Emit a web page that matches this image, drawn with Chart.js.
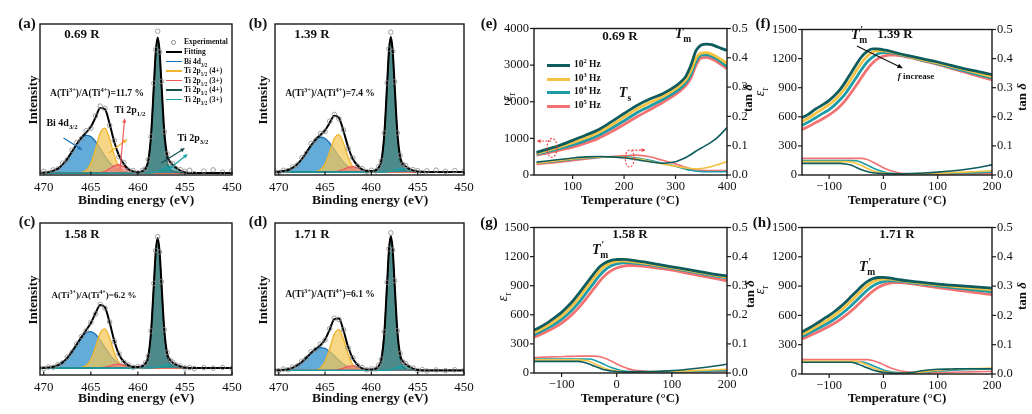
<!DOCTYPE html>
<html><head><meta charset="utf-8">
<script src="https://cdn.jsdelivr.net/npm/chart.js@4.4.1/dist/chart.umd.min.js"></script>
<style>
html,body{margin:0;padding:0;background:#fff;}
body{width:1032px;height:414px;position:relative;overflow:hidden;font-family:'Liberation Serif','Times New Roman',serif;color:#111;}
canvas{position:absolute;}
.t{position:absolute;white-space:nowrap;line-height:1;color:#111;}
.t sub,.t sup{font-size:68%;line-height:0;}
.lg{position:absolute;}
</style></head><body>
<script>
// ---------------- XPS data (binding energy grid, eV) ----------------
const xpsEnergy = [470.5,470,469.5,469,468.5,468,467.5,467,466.5,466,465.5,465,464.5,464,463.5,463,462.5,462,461.5,461,460.5,460,459.5,459.2,458.9,458.6,458.3,458.1,457.9,457.7,457.5,457.2,456.9,456.6,456.3,456.0,455.5,455,454.5,454,453,452,451,450];
const xpsTicks = [470,465,460,455,450];
// component heights above the background line
const xpsBaseA = 1.3;
const xpsBiA = [0.1,0.2,0.6,1.4,2.9, 5.6,9.4,14.2,19.1,23.1, 25.0,24.1,20.9,16.2,11.2, 7.0,3.9,1.9,0.9,0.3, 0.1,0,0,0,0, 0,0,0,0,0, 0,0,0,0,0, 0,0,0,0,0, 0,0,0,0];
const xpsY4A = [0,0,0,0,0, 0,0,0,0,0.3, 1.8,6.5,15.9,26.5,29.8, 22.6,11.7,4.1,1.0,0.1, 0,0,0,0,0, 0,0,0,0,0, 0,0,0,0,0, 0,0,0,0,0, 0,0,0,0];
const xpsR3A = [0,0,0,0,0, 0,0,0,0,0, 0,0,0,0.3,1.2, 2.9,4.8,5.5,4.2,2.1, 0.7,0.1,0,0,0, 0,0,0,0,0, 0,0,0,0,0, 0,0,0,0,0, 0,0,0,0];
const xpsP4A = [0,0,0,0,0, 0,0,0,0,0, 0,0,0,0,0, 0,0,0,0,0, 0.2,0.5,1.3,3,8, 25,57.8,79.9,89,79.9, 57.8,25,8,3,1.3, 0.7,0.3,0.1,0,0, 0,0,0,0];
const xpsP3A = [0,0,0,0,0, 0,0,0,0,0, 0,0,0,0,0, 0,0,0,0,0, 0,0,0,0,0, 0,0.25,0.5,0.8,1.3, 2.0,3.1,4.1,4.5,4.1, 3.1,1.3,0.35,0.05,0, 0,0,0,0];
const xpsFitA = [1.4,1.5,1.9,2.7,4.2, 6.9,10.7,15.5,20.4,24.7, 28.1,31.9,38.1,44.3,43.5, 33.8,21.7,12.8,7.4,3.8, 2.3,1.9,2.6,4.3,9.3, 26.3,59.4,81.7,91.1,82.5, 61.1,29.4,13.4,8.8,6.7, 5.1,2.9,1.75,1.35,1.3, 1.3,1.3,1.3,1.3];
const xpsExpA = [1.9,2.4,1.2,3.3,4.0, 7.8,10.1,16.4,21.5,24.0, 29.3,31.0,39.2,45.6,44.1, 32.9,22.8,12.1,8.3,3.1, 2.9,1.4,3.0,4.0,10.2, 25.5,60.8,83.0,95.2,81.4, 62.0,28.6,14.1,8.1,7.3, 4.4,3.6,2.4,3.1,0.9, 2.6,3.4,1.8,2.7];

const xpsBaseB = 2.0;
const xpsBiB = [0.1,0.2,0.6,1.3,2.7, 5.2,8.6,13.1,17.6,21.3, 23.0,22.2,19.2,14.9,10.3, 6.4,3.6,1.7,0.8,0.3, 0.1,0,0,0,0, 0,0,0,0,0, 0,0,0,0,0, 0,0,0,0,0, 0,0,0,0];
const xpsY4B = [0,0,0,0,0, 0,0,0,0,0.3, 1.5,5.4,13.3,22.1,24.8, 18.8,9.7,3.4,0.8,0.1, 0,0,0,0,0, 0,0,0,0,0, 0,0,0,0,0, 0,0,0,0,0, 0,0,0,0];
const xpsR3B = [0,0,0,0,0, 0,0,0,0,0, 0,0,0,0.2,0.8, 1.8,3.1,3.5,2.7,1.3, 0.4,0.1,0,0,0, 0,0,0,0,0, 0,0,0,0,0, 0,0,0,0,0, 0,0,0,0];
const xpsP4B = [0,0,0,0,0, 0,0,0,0,0, 0,0,0,0,0, 0,0,0,0,0, 0.2,0.5,1.3,3,8, 25,57.8,79.9,89,79.9, 57.8,25,8,3,1.3, 0.7,0.3,0.1,0,0, 0,0,0,0];
const xpsP3B = [0,0,0,0,0, 0,0,0,0,0, 0,0,0,0,0, 0,0,0,0,0, 0,0,0,0,0, 0,0.1,0.3,0.5,0.7, 1.1,1.7,2.3,2.5,2.3, 1.7,0.7,0.2,0,0, 0,0,0,0];
const xpsFitB = [2.1,2.2,2.6,3.3,4.7, 7.2,10.6,15.1,19.6,23.6, 26.5,29.6,34.5,39.2,37.9, 29.0,18.4,10.6,6.3,3.7, 2.7,2.6,3.3,5.0,10.0, 27.0,59.9,82.2,91.5,82.6, 60.9,28.7,12.3,7.5,5.6, 4.4,3.0,2.3,2.0,2.0, 2.0,2.0,2.0,2.0];
const xpsExpB = [2.6,1.7,3.1,2.9,5.3, 6.6,11.4,14.5,20.8,23.0, 27.4,28.9,35.6,40.1,37.2, 29.8,17.6,11.3,5.8,4.2, 2.3,3.1,2.8,5.6,9.4, 27.8,61.0,83.5,94.6,81.9, 61.8,27.9,13.0,7.0,6.2, 3.8,3.5,2.9,1.6,2.7, 3.2,2.4,2.9,2.5];

const xpsBaseC = 4.6;
const xpsBiC = [0,0.1,0.3,0.8,1.8, 3.7,6.7,10.8,15.5,20.0, 23.2,24.0,22.2,18.3,13.6, 9.0,5.4,2.8,1.3,0.6, 0.2,0.1,0,0,0, 0,0,0,0,0, 0,0,0,0,0, 0,0,0,0,0, 0,0,0,0];
const xpsY4C = [0,0,0,0,0, 0,0,0,0,0.3, 1.6,5.6,13.8,23.0,25.8, 19.6,10.1,3.6,0.9,0.1, 0,0,0,0,0, 0,0,0,0,0, 0,0,0,0,0, 0,0,0,0,0, 0,0,0,0];
const xpsR3C = [0,0,0,0,0, 0,0,0,0,0, 0,0,0,0.1,0.5, 1.3,2.2,2.5,1.9,1.0, 0.3,0.1,0,0,0, 0,0,0,0,0, 0,0,0,0,0, 0,0,0,0,0, 0,0,0,0];
const xpsP4C = [0,0,0,0,0, 0,0,0,0,0, 0,0,0,0,0, 0,0,0,0,0, 0.2,0.5,1.2,2.9,7.6, 23.9,55.2,76.3,85,76.3, 55.2,23.9,7.6,2.9,1.2, 0.7,0.3,0.1,0,0, 0,0,0,0];
const xpsP3C = [0,0,0,0,0, 0,0,0,0,0, 0,0,0,0,0, 0,0,0,0,0, 0,0,0,0,0, 0,0.1,0.3,0.5,0.7, 1.1,1.7,2.3,2.5,2.3, 1.7,0.7,0.2,0,0, 0,0,0,0];
const xpsFitC = [4.6,4.7,4.9,5.4,6.4, 8.3,11.3,15.4,20.1,24.9, 29.4,34.2,40.6,46.0,44.5, 34.5,22.3,13.5,8.7,6.3, 5.3,5.3,5.8,7.5,12.2, 28.5,59.9,81.2,90.1,81.6, 60.9,30.2,14.5,10.0,8.1, 7.0,5.6,4.9,4.6,4.6, 4.6,4.6,4.6,4.6];
const xpsExpC = [5.0,4.2,5.3,5.1,6.8, 8.0,11.8,15.0,20.5,25.3, 29.0,34.6,40.2,46.5,44.0, 34.9,22.0,13.9,8.4,6.6, 5.0,5.6,5.5,7.9,12.5, 28.9,60.3,81.9,91.0,81.0, 61.4,29.8,14.9,9.7,8.4, 6.7,5.9,4.6,4.9,4.3, 4.8,4.5,4.9,4.4];

const xpsBaseD = 3.0;
const xpsBiD = [0.1,0.1,0.4,0.8,1.7, 3.4,5.6,8.5,11.5,13.9, 15.0,14.5,12.5,9.7,6.7, 4.2,2.3,1.1,0.5,0.2, 0.1,0,0,0,0, 0,0,0,0,0, 0,0,0,0,0, 0,0,0,0,0, 0,0,0,0];
const xpsY4D = [0,0,0,0,0, 0,0,0,0,0.3, 1.6,5.9,14.3,23.9,26.8, 20.3,10.5,3.7,0.9,0.1, 0,0,0,0,0, 0,0,0,0,0, 0,0,0,0,0, 0,0,0,0,0, 0,0,0,0];
const xpsR3D = [0,0,0,0,0, 0,0,0,0,0, 0,0,0,0.2,0.7, 1.6,2.6,3.0,2.3,1.1, 0.4,0.1,0,0,0, 0,0,0,0,0, 0,0,0,0,0, 0,0,0,0,0, 0,0,0,0];
const xpsP4D = [0,0,0,0,0, 0,0,0,0,0, 0,0,0,0,0, 0,0,0,0,0, 0.2,0.5,1.3,3,7.9, 24.7,57.1,79,88,79, 57.1,24.7,7.9,3,1.3, 0.7,0.3,0.1,0,0, 0,0,0,0];
const xpsP3D = [0,0,0,0,0, 0,0,0,0,0, 0,0,0,0,0, 0,0,0,0,0, 0,0,0,0,0, 0,0.2,0.3,0.5,0.9, 1.3,2.1,2.7,3.0,2.7, 2.1,0.9,0.2,0,0, 0,0,0,0];
const xpsFitD = [3.1,3.1,3.4,3.8,4.7, 6.4,8.6,11.5,14.5,17.2, 19.6,23.4,29.8,36.8,37.2, 29.1,18.4,10.8,6.7,4.4, 3.7,3.6,4.3,6.0,10.9, 27.7,60.3,82.3,91.5,82.9, 61.4,29.8,13.6,9.0,7.0, 5.8,4.2,3.3,3.0,3.0, 3.0,3.0,3.0,3.0];
const xpsExpD = [3.6,2.8,3.9,3.5,5.2, 6.0,9.1,11.0,15.2,16.8, 20.3,23.0,30.5,37.4,36.6, 29.7,17.9,11.4,6.3,4.9, 3.4,4.0,4.0,6.5,10.4, 28.4,60.9,83.0,93.5,82.2, 62.1,29.2,14.2,8.6,7.5, 5.3,4.6,3.0,3.5,2.7, 3.3,2.9,3.4,3.1];

// ---------------- Dielectric data ----------------
const freqLabels = ['10<sup>2</sup> Hz','10<sup>3</sup> Hz','10<sup>4</sup> Hz','10<sup>5</sup> Hz'];
const tempE = [30,50,75,100,125,150,175,200,225,250,275,300,310,320,330,340,350,360,370,380,390,400];
const epsE2 = [618,700,810,945,1085,1236,1450,1678,1900,2075,2220,2428,2540,2693,3002,3400,3550,3576,3560,3505,3450,3400];
const epsE3 = [590,665,765,880,1010,1160,1360,1580,1800,1980,2140,2350,2460,2600,2850,3200,3330,3340,3300,3230,3140,3050];
const epsE4 = [570,635,725,820,940,1080,1270,1480,1700,1880,2060,2270,2380,2520,2750,3100,3270,3280,3240,3170,3070,2960];
const epsE5 = [540,600,680,760,870,1000,1180,1380,1590,1780,1980,2200,2310,2440,2650,3000,3200,3210,3170,3100,3000,2900];
const tanE2 = [0.044,0.048,0.053,0.058,0.062,0.063,0.062,0.059,0.052,0.045,0.040,0.045,0.052,0.060,0.070,0.082,0.092,0.102,0.113,0.126,0.143,0.162];
const tanE3 = [0.040,0.044,0.050,0.055,0.059,0.062,0.062,0.060,0.055,0.047,0.038,0.030,0.027,0.024,0.022,0.021,0.022,0.025,0.029,0.034,0.040,0.046];
const tanE4 = [0.040,0.043,0.048,0.053,0.057,0.060,0.062,0.062,0.058,0.050,0.040,0.030,0.025,0.020,0.016,0.013,0.012,0.011,0.011,0.011,0.011,0.012];
const tanE5 = [0.036,0.039,0.044,0.049,0.054,0.059,0.063,0.066,0.068,0.062,0.050,0.038,0.032,0.026,0.021,0.018,0.016,0.015,0.015,0.015,0.015,0.015];
const ticksE = [100,200,300,400];
const epsTicksE = [0,1000,2000,3000,4000];

const tempL = [-150,-140,-125,-110,-100,-90,-80,-70,-60,-50,-40,-30,-20,-10,0,10,20,30,50,75,100,125,150,175,200];
const ticksL = [-100,0,100,200];
const epsTicksL = [0,300,600,900,1200,1500];
const tanTicks = [0,0.1,0.2,0.3,0.4,0.5];

const epsF2 = [590,620,680,730,770,820,880,960,1050,1140,1220,1275,1300,1300,1290,1280,1265,1250,1225,1195,1165,1130,1095,1065,1035];
const epsF3 = [550,580,635,690,725,770,830,900,985,1075,1160,1225,1265,1280,1280,1272,1260,1245,1218,1185,1155,1120,1085,1050,1015];
const epsF4 = [510,540,590,640,675,720,775,840,920,1005,1090,1165,1215,1250,1262,1262,1255,1242,1215,1180,1148,1110,1072,1035,1000];
const epsF5 = [470,495,540,585,620,660,710,770,845,925,1010,1090,1155,1200,1225,1235,1237,1232,1210,1175,1140,1100,1060,1020,980];
const tanF2 = [0.040,0.040,0.040,0.040,0.040,0.040,0.040,0.038,0.034,0.026,0.018,0.012,0.008,0.006,0.005,0.004,0.004,0.004,0.005,0.007,0.010,0.014,0.019,0.026,0.035];
const tanF3 = [0.046,0.046,0.046,0.046,0.046,0.046,0.046,0.046,0.045,0.040,0.032,0.023,0.015,0.010,0.007,0.005,0.004,0.004,0.004,0.005,0.006,0.008,0.010,0.012,0.015];
const tanF4 = [0.050,0.050,0.050,0.050,0.050,0.050,0.050,0.050,0.050,0.049,0.043,0.034,0.025,0.017,0.011,0.007,0.005,0.004,0.004,0.004,0.005,0.006,0.007,0.008,0.010];
const tanF5 = [0.057,0.057,0.057,0.057,0.057,0.057,0.057,0.057,0.057,0.057,0.057,0.053,0.045,0.035,0.025,0.017,0.011,0.007,0.004,0.003,0.003,0.003,0.004,0.004,0.005];

const epsG2 = [440,470,520,580,625,680,740,810,885,960,1035,1100,1140,1162,1170,1172,1168,1160,1145,1120,1095,1070,1045,1020,1000];
const epsG3 = [415,443,490,545,588,640,698,765,840,915,990,1060,1108,1138,1150,1155,1153,1147,1133,1110,1087,1062,1037,1012,990];
const epsG4 = [395,420,463,513,553,600,655,718,790,865,940,1012,1068,1105,1125,1135,1137,1133,1122,1102,1080,1055,1030,1003,980];
const epsG5 = [370,393,432,478,515,558,608,666,733,805,880,952,1012,1055,1083,1100,1108,1108,1100,1082,1060,1033,1005,977,950];
const tanG2 = [0.040,0.040,0.040,0.040,0.040,0.040,0.040,0.040,0.037,0.031,0.023,0.016,0.010,0.007,0.005,0.004,0.004,0.004,0.005,0.006,0.008,0.012,0.017,0.023,0.030];
const tanG3 = [0.045,0.045,0.045,0.045,0.045,0.045,0.045,0.045,0.044,0.040,0.032,0.023,0.015,0.010,0.007,0.005,0.004,0.004,0.004,0.005,0.006,0.007,0.009,0.011,0.013];
const tanG4 = [0.048,0.048,0.048,0.048,0.048,0.048,0.048,0.048,0.048,0.048,0.044,0.036,0.027,0.019,0.013,0.008,0.006,0.005,0.004,0.004,0.004,0.005,0.006,0.007,0.008];
const tanG5 = [0.053,0.054,0.055,0.056,0.056,0.057,0.057,0.058,0.058,0.058,0.058,0.056,0.050,0.041,0.031,0.022,0.015,0.010,0.006,0.004,0.004,0.004,0.004,0.005,0.005];

const epsH2 = [430,460,510,565,600,640,685,735,790,845,900,945,975,988,990,985,975,965,950,935,920,910,900,890,880];
const epsH3 = [405,433,480,530,563,602,645,693,745,800,855,905,943,963,972,972,967,958,943,927,912,900,888,875,862];
const epsH4 = [385,410,452,497,528,563,603,648,697,750,805,857,900,930,947,955,955,950,937,920,903,888,873,857,842];
const epsH5 = [360,383,420,460,489,521,557,598,643,692,745,797,845,885,912,928,935,935,925,905,885,867,848,830,812];
const tanH2 = [0.040,0.040,0.040,0.040,0.040,0.040,0.040,0.040,0.040,0.036,0.029,0.021,0.014,0.009,0.006,0.004,0.003,0.003,0.005,0.012,0.016,0.017,0.018,0.018,0.018];
const tanH3 = [0.043,0.043,0.043,0.043,0.043,0.043,0.043,0.043,0.043,0.043,0.038,0.030,0.021,0.014,0.009,0.006,0.004,0.003,0.004,0.008,0.013,0.016,0.018,0.019,0.020];
const tanH4 = [0.041,0.041,0.041,0.041,0.041,0.041,0.041,0.041,0.041,0.041,0.041,0.037,0.029,0.021,0.014,0.009,0.006,0.004,0.003,0.006,0.010,0.013,0.015,0.016,0.017];
const tanH5 = [0.049,0.049,0.049,0.049,0.049,0.049,0.049,0.049,0.049,0.049,0.049,0.049,0.046,0.040,0.032,0.023,0.016,0.011,0.006,0.004,0.005,0.006,0.007,0.008,0.009];

// ---------------- rendering ----------------
const FONT = "'Liberation Serif','Times New Roman',serif";
Chart.defaults.font.family = FONT;
Chart.defaults.color = '#111';
const PL = 48, PT = 8, PR = 42, PB = 24;
const freqColors = ['#0e5c5e','#f5c242','#1b9ca6','#f27272'];
const noGrid = {display: false, drawTicks: false, drawOnChartArea: false};

function makeCanvas(box){
  const c = document.createElement('canvas');
  const w = box.r - box.l + PL + PR, h = box.b - box.t + PT + PB;
  c.width = w; c.height = h;
  c.style.left = (box.l - PL) + 'px'; c.style.top = (box.t - PT) + 'px';
  c.style.width = w + 'px'; c.style.height = h + 'px';
  document.body.appendChild(c);
  return c;
}
function drawArrow(ctx,x1,y1,x2,y2,col,lw,dash,hs){
  ctx.save(); ctx.strokeStyle = col; ctx.fillStyle = col; ctx.lineWidth = lw;
  const ang = Math.atan2(y2-y1, x2-x1);
  ctx.setLineDash(dash || []);
  ctx.beginPath(); ctx.moveTo(x1,y1); ctx.lineTo(x2 - Math.cos(ang)*hs*0.8, y2 - Math.sin(ang)*hs*0.8); ctx.stroke();
  ctx.setLineDash([]);
  ctx.beginPath(); ctx.moveTo(x2,y2);
  ctx.lineTo(x2 - hs*Math.cos(ang-0.42), y2 - hs*Math.sin(ang-0.42));
  ctx.lineTo(x2 - hs*Math.cos(ang+0.42), y2 - hs*Math.sin(ang+0.42));
  ctx.closePath(); ctx.fill(); ctx.restore();
}
const framePlugin = {
  id: 'frame',
  afterDatasetsDraw(chart, args, o){
    const {ctx, chartArea: a, scales} = chart;
    ctx.save();
    (o.ellipses || []).forEach(e => {
      ctx.save(); ctx.strokeStyle = e.color; ctx.lineWidth = 1.1; ctx.setLineDash([2,1.6]);
      ctx.beginPath(); ctx.ellipse(scales.x.getPixelForValue(e.x), scales.y.getPixelForValue(e.y), e.rx, e.ry, 0, 0, Math.PI*2); ctx.stroke(); ctx.restore();
    });
    (o.arrows || []).forEach(ar => {
      const ys = scales[ar.axis || 'y'];
      drawArrow(ctx, scales.x.getPixelForValue(ar.x1), ys.getPixelForValue(ar.y1),
        scales.x.getPixelForValue(ar.x2), ys.getPixelForValue(ar.y2), ar.color, ar.lw || 1.2, ar.dash, ar.hs || 5);
    });
    ctx.strokeStyle = '#1a1a1a'; ctx.lineWidth = 1.4; ctx.setLineDash([]);
    ctx.strokeRect(a.left, a.top, a.right - a.left, a.bottom - a.top);
    ctx.lineWidth = 1.2;
    const seg = (x1,y1,x2,y2) => { ctx.beginPath(); ctx.moveTo(x1,y1); ctx.lineTo(x2,y2); ctx.stroke(); };
    scales.x.ticks.forEach(t => { const p = scales.x.getPixelForValue(t.value);
      if (o.inward) seg(p, a.bottom, p, a.bottom - 3.5); else seg(p, a.bottom, p, a.bottom + 4); });
    if (o.side){
      scales.y.ticks.forEach(t => { const p = scales.y.getPixelForValue(t.value); seg(a.left, p, a.left - 4, p); });
      scales.y2.ticks.forEach(t => { const p = scales.y2.getPixelForValue(t.value); seg(a.right, p, a.right + 4, p); });
    }
    ctx.restore();
  }
};
const fixTicks = arr => (s => { s.ticks = arr.map(v => ({value: v})); });
const minus = v => String(v).replace('-', '\u2212');

function xpsChart(box, base, bi, y4, r3, p4, p3, fit, exp, arrows){
  const cv = makeCanvas(box);
  const pts = (arr, add) => xpsEnergy.map((e, i) => ({x: e, y: add + arr[i]}));
  const comp = (arr, bc, fc, ord) => ({data: pts(arr, base), borderColor: bc, backgroundColor: fc, borderWidth: 1.3,
    pointRadius: 0, fill: {value: base}, order: ord, cubicInterpolationMode: 'monotone'});
  new Chart(cv, {
    type: 'line',
    data: {datasets: [
      comp(bi, '#1b6fb5', 'rgba(86,164,214,0.92)', 6),
      comp(y4, '#f0b52c', 'rgba(244,198,88,0.72)', 5),
      comp(r3, '#ef5a5a', 'rgba(242,120,120,0.65)', 4),
      comp(p4, '#174f50', 'rgba(62,128,128,0.92)', 3),
      comp(p3, '#16a2a8', 'rgba(30,150,155,0.6)', 2),
      {data: pts(fit, 0), borderColor: '#000', borderWidth: 2, pointRadius: 0, fill: false, order: 1, cubicInterpolationMode: 'monotone'},
      {data: pts(exp, 0), showLine: false, pointRadius: 2.3, pointBorderWidth: 0.8, pointBorderColor: '#8a8a8a',
        pointBackgroundColor: 'rgba(255,255,255,0)', order: 0}
    ]},
    options: {
      responsive: false, animation: false, devicePixelRatio: 1, events: [],
      layout: {padding: {top: PT, right: PR, left: 0, bottom: 0}},
      plugins: {legend: {display: false}, tooltip: {enabled: false}, frame: {inward: true, arrows: arrows || []}},
      scales: {
        x: {type: 'linear', min: 450, max: 470.4, reverse: true, grid: noGrid, border: {display: false},
          afterBuildTicks: fixTicks(xpsTicks),
          ticks: {font: {size: 13, family: FONT}, color: '#111', padding: 5, maxRotation: 0, autoSkip: false, callback: v => String(v)},
          afterFit: s => { s.height = PB; }},
        y: {min: 0, max: 100, grid: noGrid, border: {display: false}, ticks: {display: false},
          afterFit: s => { s.width = PL; }}
      }
    },
    plugins: [framePlugin]
  });
}

function dielChart(box, T, eps, tan, xr, xt, yMax, yt, extra){
  const cv = makeCanvas(box);
  const ds = [];
  eps.forEach((arr, k) => ds.push({data: T.map((t, i) => ({x: t, y: arr[i]})), yAxisID: 'y', borderColor: freqColors[k],
    borderWidth: 2.8, pointRadius: 0, fill: false, cubicInterpolationMode: 'monotone', order: k}));
  tan.forEach((arr, k) => ds.push({data: T.map((t, i) => ({x: t, y: arr[i]})), yAxisID: 'y2', borderColor: freqColors[k],
    borderWidth: 1.6, pointRadius: 0, fill: false, cubicInterpolationMode: 'monotone', order: k + 4}));
  new Chart(cv, {
    type: 'line',
    data: {datasets: ds},
    options: {
      responsive: false, animation: false, devicePixelRatio: 1, events: [],
      layout: {padding: {top: PT, right: 0, left: 0, bottom: 0}},
      plugins: {legend: {display: false}, tooltip: {enabled: false},
        frame: Object.assign({inward: false, side: true}, extra || {})},
      scales: {
        x: {type: 'linear', min: xr[0], max: xr[1], grid: noGrid, border: {display: false},
          afterBuildTicks: fixTicks(xt),
          ticks: {font: {size: 12.5, family: FONT}, color: '#111', padding: 4, maxRotation: 0, autoSkip: false, callback: minus},
          afterFit: s => { s.height = PB; }},
        y: {position: 'left', min: 0, max: yMax, grid: noGrid, border: {display: false},
          afterBuildTicks: fixTicks(yt),
          ticks: {font: {size: 12.5, family: FONT}, color: '#111', padding: 5, autoSkip: false, callback: v => String(v)},
          afterFit: s => { s.width = PL; }},
        y2: {position: 'right', min: 0, max: 0.5, grid: noGrid, border: {display: false},
          afterBuildTicks: fixTicks(tanTicks),
          ticks: {font: {size: 12.5, family: FONT}, color: '#111', padding: 5, autoSkip: false, callback: v => Number(v).toFixed(1)},
          afterFit: s => { s.width = PR; }}
      }
    },
    plugins: [framePlugin]
  });
}

const boxA = {l: 40, t: 24, r: 232, b: 175};
const boxB = {l: 275, t: 24, r: 464, b: 175};
const boxC = {l: 40, t: 223, r: 232, b: 375};
const boxD = {l: 275, t: 223, r: 464, b: 375};
const boxE = {l: 534, t: 24, r: 727, b: 175};
const boxF = {l: 802, t: 25, r: 992, b: 175};
const boxG = {l: 534, t: 223, r: 727, b: 373};
const boxH = {l: 802, t: 223, r: 992, b: 374};

const arrowsA = [
  {x1: 467.9, y1: 24.5, x2: 465.9, y2: 16.6, color: '#1b6fb5'},
  {x1: 463.1, y1: 14.6, x2: 461.1, y2: 23.8, color: '#f0b52c'},
  {x1: 461.9, y1: 3.3, x2: 461.4, y2: 37.7, color: '#ef5a5a'},
  {x1: 457.5, y1: 7.9, x2: 455.0, y2: 17.9, color: '#174f50'},
  {x1: 456.8, y1: 3.3, x2: 454.7, y2: 13.9, color: '#16a2a8'}
];
xpsChart(boxA, xpsBaseA, xpsBiA, xpsY4A, xpsR3A, xpsP4A, xpsP3A, xpsFitA, xpsExpA, arrowsA);
xpsChart(boxB, xpsBaseB, xpsBiB, xpsY4B, xpsR3B, xpsP4B, xpsP3B, xpsFitB, xpsExpB);
xpsChart(boxC, xpsBaseC, xpsBiC, xpsY4C, xpsR3C, xpsP4C, xpsP3C, xpsFitC, xpsExpC);
xpsChart(boxD, xpsBaseD, xpsBiD, xpsY4D, xpsR3D, xpsP4D, xpsP3D, xpsFitD, xpsExpD);

dielChart(boxE, tempE, [epsE2, epsE3, epsE4, epsE5], [tanE2, tanE3, tanE4, tanE5], [25, 400], ticksE, 4000, epsTicksE, {
  ellipses: [{x: 60, y: 742, rx: 5, ry: 9.5, color: '#f03c3c'}, {x: 211, y: 450, rx: 4.5, ry: 8.5, color: '#f03c3c'}],
  arrows: [{x1: 58, y1: 927, x2: 30, y2: 927, color: '#f03c3c', dash: [2,1.6], lw: 1.1, hs: 4.5},
           {x1: 215, y1: 680, x2: 242, y2: 680, color: '#f03c3c', dash: [2,1.6], lw: 1.1, hs: 4.5}]
});
dielChart(boxF, tempL, [epsF2, epsF3, epsF4, epsF5], [tanF2, tanF3, tanF4, tanF5], [-150, 200], ticksL, 1500, epsTicksL, {
  arrows: [{x1: -49, y1: 1330, x2: 36, y2: 1100, color: '#111', lw: 1.2, hs: 6}]
});
dielChart(boxG, tempL, [epsG2, epsG3, epsG4, epsG5], [tanG2, tanG3, tanG4, tanG5], [-150, 200], ticksL, 1500, epsTicksL);
dielChart(boxH, tempL, [epsH2, epsH3, epsH4, epsH5], [tanH2, tanH3, tanH4, tanH5], [-150, 200], ticksL, 1500, epsTicksL);

// ---------------- text ----------------
function txt(x, y, html, opt){
  opt = opt || {};
  const d = document.createElement('div'); d.className = 't'; d.innerHTML = html;
  d.style.left = x + 'px'; d.style.top = y + 'px';
  d.style.fontSize = (opt.size || 13) + 'px';
  d.style.fontWeight = opt.bold === false ? 'normal' : 'bold';
  if (opt.italic) d.style.fontStyle = 'italic';
  let tr = opt.anchor === 'left' ? 'translate(0,-50%)' : 'translate(-50%,-50%)';
  if (opt.rot) tr += ' rotate(-90deg)';
  d.style.transform = tr;
  document.body.appendChild(d);
  return d;
}
function legLine(x1, x2, y, color, w){
  const d = document.createElement('div'); d.className = 'lg';
  d.style.left = x1 + 'px'; d.style.top = (y - w/2) + 'px'; d.style.width = (x2 - x1) + 'px'; d.style.height = w + 'px';
  d.style.background = color; document.body.appendChild(d);
}
function legCircle(x, y, r, color){
  const d = document.createElement('div'); d.className = 'lg';
  d.style.left = (x - r) + 'px'; d.style.top = (y - r) + 'px'; d.style.width = (2*r - 1.6) + 'px'; d.style.height = (2*r - 1.6) + 'px';
  d.style.border = '0.8px solid ' + color; d.style.borderRadius = '50%'; document.body.appendChild(d);
}

// panel letters
[['(a)',27,23],['(b)',258,23],['(c)',27,221],['(d)',258,221],['(e)',489,23],['(f)',763,23],['(g)',489,222],['(h)',762,222]]
  .forEach(p => txt(p[1], p[2], p[0], {size: 15}));

// XPS axis titles
[[32,100],[262,100],[32,300],[262,300]].forEach(p => txt(p[0], p[1], 'Intensity', {size: 13, rot: true}));
[[136,200],[370,200],[136,398],[370,398]].forEach(p => txt(p[0], p[1], 'Binding energy (eV)', {size: 13.5}));
// XPS sample labels & ratios
txt(82, 33, '0.69 R', {size: 13}); txt(312, 33, '1.39 R', {size: 13});
txt(82, 233, '1.58 R', {size: 13}); txt(312, 233, '1.71 R', {size: 13});
txt(97, 94, 'A(Ti<sup>3+</sup>)/A(Ti<sup>4+</sup>)=11.7 %', {size: 9.5});
txt(330, 94, 'A(Ti<sup>3+</sup>)/A(Ti<sup>4+</sup>)=7.4 %', {size: 9.5});
txt(94, 295, 'A(Ti<sup>3+</sup>)/A(Ti<sup>4+</sup>)=6.2 %', {size: 9});
txt(330, 295, 'A(Ti<sup>3+</sup>)/A(Ti<sup>4+</sup>)=6.1 %', {size: 9.5});
txt(62, 123, 'Bi 4d<sub>3/2</sub>', {size: 10});
txt(130, 110, 'Ti 2p<sub>1/2</sub>', {size: 10});
txt(193, 138, 'Ti 2p<sub>3/2</sub>', {size: 10});
// XPS legend
const legRows = [
  ['Experimental', null, 42], ['Fitting', '#000', 52], ['Bi 4d<sub>3/2</sub>', '#1b6fb5', 61.5],
  ['Ti 2p<sub>1/2</sub> (4+)', '#f0b52c', 71], ['Ti 2p<sub>1/2</sub> (3+)', '#ef5a5a', 80.5],
  ['Ti 2p<sub>3/2</sub> (4+)', '#174f50', 90], ['Ti 2p<sub>3/2</sub> (3+)', '#16a2a8', 99.5]
];
legRows.forEach(r => {
  if (r[1]) legLine(166, 182, r[2], r[1], 1.8); else legCircle(173, r[2], 2.2, '#888');
  txt(184, r[2], r[0], {size: 7.5, anchor: 'left'});
});

// dielectric axis titles
[[630,199],[897,199],[630,397],[897,397]].forEach(p => txt(p[0], p[1], 'Temperature (°C)', {size: 13}));
[[507,97],[760,92],[503,297],[760,290]].forEach(p => txt(p[0], p[1], '<i>ε</i><sub>r</sub>', {size: 14, bold: false, rot: true}));
[[747,98],[1021,97],[749,294],[1021,296]].forEach(p => txt(p[0], p[1], 'tan <i>δ</i>', {size: 13, rot: true}));
// sample labels
txt(620, 35, '0.69 R', {size: 13}); txt(895, 33, '1.39 R', {size: 13});
txt(630, 233, '1.58 R', {size: 13}); txt(897, 233, '1.71 R', {size: 13});
// T labels
txt(683, 34, '<i>T</i><sub>m</sub>', {size: 14});
txt(625, 93, '<i>T</i><sub>s</sub>', {size: 14});
const tmp = '<i>T</i><sup style="margin-left:1px">\u2032</sup><sub style="margin-left:-4px">m</sub>';
txt(859, 35, tmp, {size: 14});
txt(600, 250, tmp, {size: 14});
txt(867, 267, tmp, {size: 14});
txt(916, 76, '<i>f</i> increase', {size: 9});
// frequency legend in (e)
[65, 79, 92, 106].forEach((y, k) => {
  legLine(547, 570, y, freqColors[k], 3);
  txt(574, y, freqLabels[k], {size: 9.5, anchor: 'left'});
});
</script>
</body></html>
